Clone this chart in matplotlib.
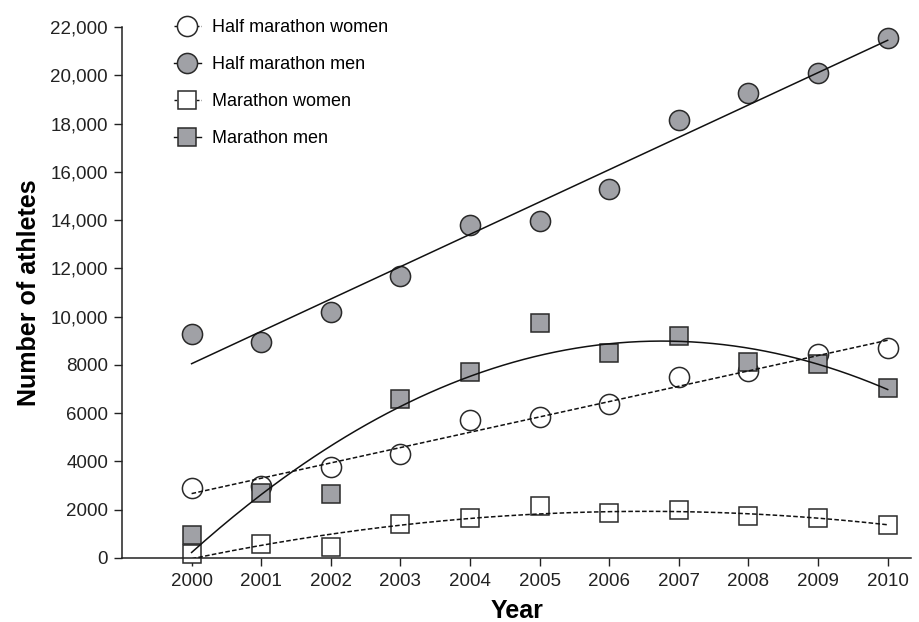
import numpy as np
import matplotlib
matplotlib.use("Agg")
import matplotlib.pyplot as plt
from matplotlib.ticker import FuncFormatter

plt.rcParams['font.family'] = ['Liberation Sans', 'DejaVu Sans']

years = np.arange(2000, 2011)
half_women = [2900, 3000, 3750, 4300, 5700, 5850, 6400, 7500, 7750, 8450, 8700]
half_men = [9300, 8950, 10200, 11700, 13800, 13950, 15300, 18150, 19250, 20100, 21550]
mara_women = [150, 600, 450, 1400, 1650, 2150, 1850, 2000, 1750, 1650, 1350]
mara_men = [950, 2700, 2650, 6600, 7700, 9750, 8500, 9200, 8100, 8050, 7050]

gray = "#a0a1a6"
edge = "#2a2a2a"

fig = plt.figure(figsize=(9.2, 6.22), dpi=100)
ax = fig.add_axes([0.1326, 0.1029, 0.858, 0.8537])

xs = np.linspace(2000, 2010, 200)

def fit(y, deg):
    c = np.polyfit(years - 2000, y, deg)
    return np.polyval(c, xs - 2000)

# regression curves
series = [
    (half_women, 1, "--", "o", "white", "Half marathon women"),
    (half_men, 1, "-", "o", gray, "Half marathon men"),
    (mara_women, 2, "--", "s", "white", "Marathon women"),
    (mara_men, 2, "-", "s", gray, "Marathon men"),
]

handles = []
for y, deg, ls, mk, fc, lab in series:
    ms = 14.5 if mk == "o" else 13.5
    ax.plot(years, y, ls="none", marker=mk, ms=ms, mfc=fc, mec=edge,
            mew=1.1, clip_on=False, zorder=2)
    ax.plot(xs, fit(y, deg), ls=ls, color="#111111", lw=1.1, zorder=3,
            dashes=(3, 1.5) if ls == "--" else (None, None))
    h, = ax.plot([], [], ls=ls, color="#111111", lw=1.0, marker=mk, ms=ms,
                 mfc=fc, mec=edge, mew=1.1,
                 dashes=(2, 1.2) if ls == "--" else (None, None))
    handles.append(h)

ax.set_xlim(1999.0, 2010.34)
ax.set_ylim(0, 22000)
ax.set_xticks(years)
ax.set_yticks(np.arange(0, 22001, 2000))
ax.yaxis.set_major_formatter(FuncFormatter(
    lambda v, p: f"{int(v):,}" if v >= 10000 else f"{int(v)}"))

for s in ["top", "right"]:
    ax.spines[s].set_visible(False)
for s in ["left", "bottom"]:
    ax.spines[s].set_linewidth(1.1)
    ax.spines[s].set_color("#222222")

ax.tick_params(axis="both", direction="out", labelsize=13.5, colors="#222222",
               length=6, width=1.0)
ax.tick_params(axis="x", pad=5)
ax.tick_params(axis="y", pad=4)

ax.set_xlabel("Year", fontsize=18, fontweight="bold", labelpad=6)
ax.set_ylabel("Number of athletes", fontsize=18, fontweight="bold", labelpad=7)

leg = ax.legend(handles, [s[5] for s in series], loc="upper left",
                bbox_to_anchor=(0.045, 1.045), frameon=False, fontsize=13,
                handlelength=1.5, handletextpad=0.6, labelspacing=1.1)

fig.savefig("out.png", dpi=100)
